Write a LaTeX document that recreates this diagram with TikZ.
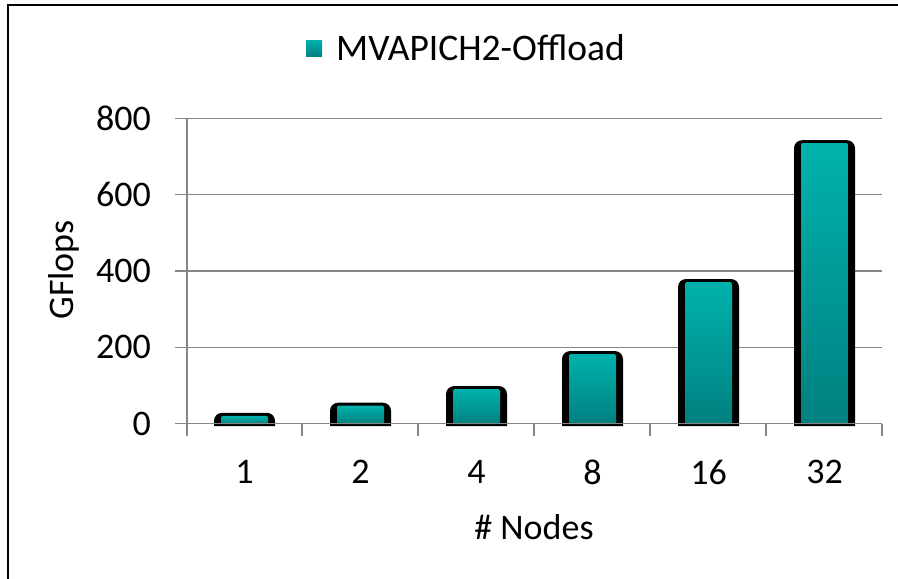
\documentclass[tikz,border=0pt]{standalone}
\usepackage{fontspec}
\setmainfont{Carlito}
\definecolor{barTop}{RGB}{0,178,172}
\definecolor{barBot}{RGB}{0,128,128}
\definecolor{axisgray}{RGB}{134,134,134}
\tikzset{
  gridline/.style={axisgray, line width=1.4pt},
  axisline/.style={axisgray, line width=1.4pt},
  barshell/.style={fill=black, rounded corners=8pt},
  barface/.style={top color=barTop, bottom color=barBot, rounded corners=1.5pt},
  ticklabel/.style={inner sep=0pt},
}
\begin{document}
\begin{tikzpicture}[x=1pt, y=-1pt, font=\fontsize{36}{42}\selectfont]
\useasboundingbox (0,0) rectangle (898,579);
\fill[white] (0,0) rectangle (898,579);

% chart frame
\draw[line width=2pt] (8,620) -- (8,5) -- (940,5);

% horizontal grid lines and y tick labels
\foreach \v in {200,400,600,800}
  \draw[gridline] (187,{423.5-\v*0.38125}) -- (882,{423.5-\v*0.38125});
\foreach \v in {0,200,400,600,800}{
  \draw[axisline] (175,{423.5-\v*0.38125}) -- (187,{423.5-\v*0.38125});
  \node[ticklabel, anchor=east] (ylab\v) at (151,{423.5-\v*0.38125}) {\v};
}

% bars: black shell with rounded top, gradient face inset
\foreach \i/\val/\lab in {0/28/1, 1/54.5/2, 2/98/4, 3/190/8, 4/379/16, 5/743/32}{
  \pgfmathsetmacro{\cx}{244.5+116*\i}
  \pgfmathsetmacro{\top}{423.5-\val*0.38125}
  \fill[barshell] ({\cx-30.5},426) -- ({\cx-30.5},\top) -- ({\cx+30.5},\top) -- ({\cx+30.5},426);
  \shade[barface] ({\cx-23.5},424) rectangle ({\cx+23.5},{\top+3});
  \node[ticklabel] (xlab\lab) at (\cx,472) {\lab};
}

% axes
\draw[axisline] (187,119) -- (187,436);
\draw[axisline] (175,423.5) -- (882,423.5);
\foreach \i in {1,...,6}
  \draw[axisline] ({186+116*\i},423.5) -- ({186+116*\i},436);

% axis titles
\node[inner sep=0pt] (xtitle) at (534,527) {\# Nodes};
\node[rotate=90, inner sep=0pt] (ytitle) at (64,270) {GFlops};

% legend
\shade[top color=barTop, bottom color=barBot] (306,40) rectangle (322,56);
\node[anchor=west, inner sep=0pt, font=\fontsize{37.5}{42}\selectfont] (legend) at (336,47.5) {MVAPICH2-Offload};
\end{tikzpicture}
\end{document}
